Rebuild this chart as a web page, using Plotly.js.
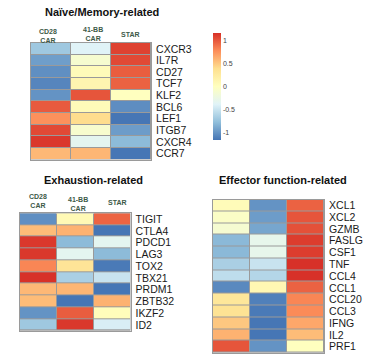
<!DOCTYPE html>
<html><head><meta charset="utf-8">
<script src="https://cdn.plot.ly/plotly-3.0.1.min.js"></script>
<style>html,body{margin:0;padding:0;background:#fff}#c{width:376px;height:359px}</style>
</head><body><div id="c"></div>
<script>
const samples = ["CD28 CAR", "41-BB CAR", "STAR"];

const memGenes = ["CXCR3","IL7R","CD27","TCF7","KLF2","BCL6","LEF1","ITGB7","CXCR4","CCR7"];
const memCD28 = [-0.70,-0.94,-1.02,-1.07,-1.00, 0.98, 0.75, 1.05, 1.12, 0.57];
const mem41BB = [-0.38,-0.11, 0.05, 0.12, 1.00, 0.05, 0.40,-0.10,-0.33, 0.58];
const memSTAR = [ 1.08, 1.05, 0.97, 0.95, 0.00,-1.03,-1.15,-0.95,-0.79,-1.15];

const exhGenes = ["TIGIT","CTLA4","PDCD1","LAG3","TOX2","TBX21","PRDM1","ZBTB32","IKZF2","ID2"];
const exhCD28 = [-1.02, 0.55, 1.12, 1.12, 0.80, 1.15, 0.57, 0.55,-1.00,-0.70];
const exh41BB = [ 0.08, 0.60,-0.79,-0.33, 0.33,-0.65, 0.58,-1.15, 0.97, 1.12];
const exhSTAR = [ 0.94,-1.15,-0.33,-0.79,-1.13,-0.50,-1.15, 0.60, 0.03,-0.42];

const effGenes = ["XCL1","XCL2","GZMB","FASLG","CSF1","TNF","CCL4","CCL1","CCL20","CCL3","IFNG","IL2","PRF1"];
const effCD28 = [ 0.05,-0.05,-0.12,-0.80,-0.80,-0.65,-0.55,-1.05, 0.30, 0.35, 0.50, 0.60, 1.00];
const eff41BB = [-1.00,-0.95,-0.90,-0.30,-0.30,-0.50,-0.60, 0.10,-1.10,-1.13,-1.15,-1.15,-1.00];
const effSTAR = [ 0.95, 1.00, 1.02, 1.10, 1.10, 1.15, 1.15, 0.95, 0.80, 0.78, 0.65, 0.55, 0.00];

const colorbarTicks = [-1,-0.5,0,0.5,1];
const titles = ["Naïve/Memory-related","Exhaustion-related","Effector function-related"];

const palette = ["#4575B4","#91BFDB","#E0F3F8","#FFFFBF","#FEE090","#FC8D59","#D73027"];
const cs = palette.map((c,i)=>[i/(palette.length-1), c]);

function zOf(a,b,c){ return a.map((v,i)=>[v,b[i],c[i]]); }

const common = {type:'heatmap', colorscale: cs, zmin:-1.155, zmax:1.155, xgap:1, ygap:1, hoverinfo:'skip'};

const traces = [
  Object.assign({}, common, {x: samples, y: memGenes, z: zOf(memCD28,mem41BB,memSTAR), xaxis:'x', yaxis:'y',
    showscale:true,
    colorbar:{x:213/376, xanchor:'left', y:1-33/359, yanchor:'top', lenmode:'pixels', len:107,
      thicknessmode:'pixels', thickness:8, xpad:0, ypad:0, outlinewidth:0, ticks:'',
      tickvals: colorbarTicks, ticktext: colorbarTicks.map(String),
      tickfont:{family:'Liberation Sans, Arial, sans-serif', size:7, color:'#444'}}}),
  Object.assign({}, common, {x: samples, y: exhGenes, z: zOf(exhCD28,exh41BB,exhSTAR), xaxis:'x2', yaxis:'y2', showscale:false}),
  Object.assign({}, common, {x: samples, y: effGenes, z: zOf(effCD28,eff41BB,effSTAR), xaxis:'x3', yaxis:'y3', showscale:false})
];

const rowFont = {family:'Liberation Sans, Arial, sans-serif', size:10.5, color:'#1a1a1a'};
function xa(d, anchor){ return {domain:d, anchor:anchor, showticklabels:false, ticks:'', showgrid:false, zeroline:false,
  showline:true, mirror:true, linecolor:'#9a9a9a', linewidth:1, fixedrange:true}; }
function ya(d, anchor, genes){ return {domain:d, anchor:anchor, side:'right', autorange:'reversed', ticks:'', ticklen:0,
  tickmode:'array', tickvals:genes, ticktext:genes,
  showgrid:false, zeroline:false, showline:true, mirror:true, linecolor:'#9a9a9a', linewidth:1,
  tickfont:rowFont, ticklabelstandoff:2, fixedrange:true}; }

const colLabFont = {family:'Liberation Sans, Arial, sans-serif', size:7, color:'#3d5a48', weight:'bold'};
const titleFont = {family:'Liberation Sans, Arial, sans-serif', size:11, color:'#111', weight:'bold'};

function lab(text, x, y){ return {text:text, xref:'paper', yref:'paper', x:x/376, y:1-y/359, showarrow:false,
  font:colLabFont, xanchor:'center', yanchor:'middle', borderpad:0}; }

const ann = [
  {text:titles[0], xref:'paper', yref:'paper', x:102/376, y:1-12/359, showarrow:false, font:titleFont, xanchor:'center', yanchor:'middle'},
  {text:titles[1], xref:'paper', yref:'paper', x:93/376, y:1-180/359, showarrow:false, font:titleFont, xanchor:'center', yanchor:'middle'},
  {text:titles[2], xref:'paper', yref:'paper', x:282.5/376, y:1-180/359, showarrow:false, font:titleFont, xanchor:'center', yanchor:'middle'},
  lab('CD28<br>CAR', 47.5, 35.5),
  lab('41-BB<br>CAR', 93, 34),
  lab('STAR', 130.5, 35),
  lab('CD28<br>CAR', 37.5, 200.5),
  lab('41-BB<br>CAR', 78.3, 203.5),
  lab('STAR', 117, 202.3)
];

const layout = {
  width:376, height:359, margin:{l:0,r:0,t:0,b:0}, paper_bgcolor:'#fff', plot_bgcolor:'#9a9a9a',
  showlegend:false,
  xaxis: xa([31/376, 151/376], 'y'), yaxis: ya([1-159.5/359, 1-43/359], 'x', memGenes),
  xaxis2: xa([20/376, 130.5/376], 'y2'), yaxis2: ya([1-330.7/359, 1-213.3/359], 'x2', exhGenes),
  xaxis3: xa([213/376, 324/376], 'y3'), yaxis3: ya([1-352.7/359, 1-199.5/359], 'x3', effGenes),
  annotations: ann
};

Plotly.newPlot('c', traces, layout, {displayModeBar:false, staticPlot:true});
</script></body></html>
